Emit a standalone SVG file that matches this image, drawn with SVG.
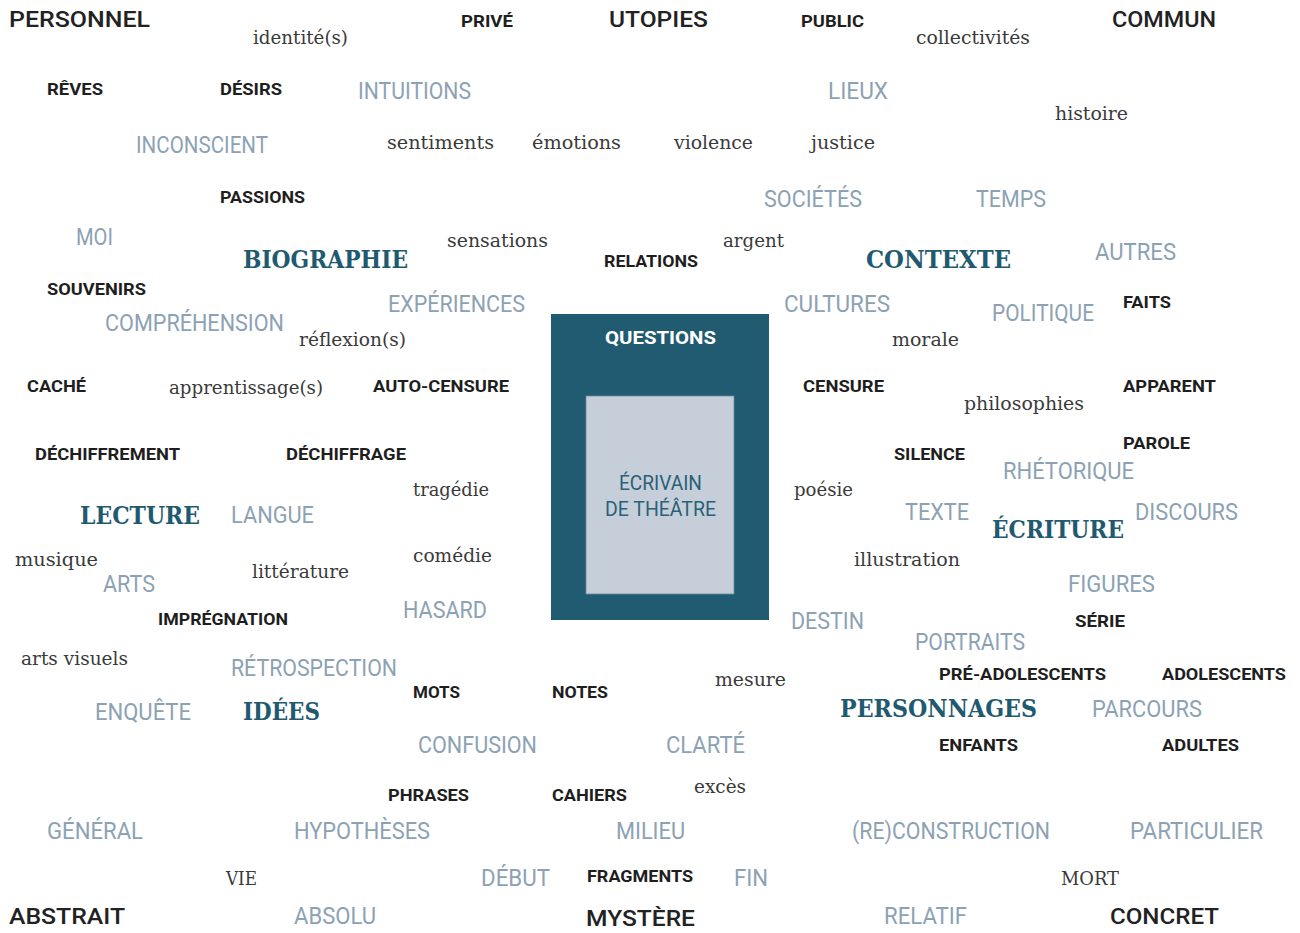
<svg xmlns="http://www.w3.org/2000/svg" width="1300" height="933" viewBox="0 0 1300 933">
  <style>
    .big { font-family: Roboto, "Liberation Sans", sans-serif; font-weight: 500; font-size: 22px; fill: #222222; }
    .sm { font-family: Roboto, "Liberation Sans", sans-serif; font-weight: 700; font-size: 17px; fill: #1e1e1e; }
    .lt { font-family: Roboto, "Liberation Sans", sans-serif; font-weight: 400; font-size: 24px; fill: #8ca2b4; }
    .sf { font-family: "DejaVu Serif", "Liberation Serif", serif; font-weight: 400; font-size: 18px; fill: #3a3a3a; }
    .sl { font-family: "DejaVu Serif", "Liberation Serif", serif; font-weight: 700; font-size: 24px; fill: #1f5a70; }
    .q { font-family: Roboto, "Liberation Sans", sans-serif; font-weight: 700; font-size: 18px; fill: #ffffff; }
    .ec { font-family: Roboto, "Liberation Sans", sans-serif; font-weight: 400; font-size: 20px; fill: #2a6078; }
  </style>

  <rect width="1300" height="933" fill="#ffffff"/>

  <!-- central box -->
  <g id="centre">
    <rect x="551" y="314" width="218" height="306" fill="#215b71"/>
    <rect x="586" y="396" width="148" height="198" fill="#c6cfd9" stroke="#6d8c9c" stroke-width="0.8"/>
    <text class="q" x="605" y="344" textLength="111" lengthAdjust="spacingAndGlyphs">QUESTIONS</text>
    <text class="ec" x="619" y="490" textLength="83" lengthAdjust="spacingAndGlyphs">ÉCRIVAIN</text>
    <text class="ec" x="605" y="516" textLength="111" lengthAdjust="spacingAndGlyphs">DE THÉÂTRE</text>
  </g>

  <!-- corner and axis terms -->
  <g id="poles">
    <text class="big" x="9" y="27" textLength="141" lengthAdjust="spacingAndGlyphs">PERSONNEL</text>
    <text class="big" x="609" y="27" textLength="99" lengthAdjust="spacingAndGlyphs">UTOPIES</text>
    <text class="big" x="1112" y="27" textLength="104" lengthAdjust="spacingAndGlyphs">COMMUN</text>
    <text class="big" x="9" y="924" textLength="116" lengthAdjust="spacingAndGlyphs">ABSTRAIT</text>
    <text class="big" x="586" y="926" textLength="109" lengthAdjust="spacingAndGlyphs">MYSTÈRE</text>
    <text class="big" x="1110" y="924" textLength="109" lengthAdjust="spacingAndGlyphs">CONCRET</text>
  </g>

  <!-- main themes -->
  <g id="themes">
    <text class="sl" x="243" y="268" textLength="165" lengthAdjust="spacingAndGlyphs">BIOGRAPHIE</text>
    <text class="sl" x="866" y="268" textLength="145" lengthAdjust="spacingAndGlyphs">CONTEXTE</text>
    <text class="sl" x="80" y="524" textLength="120" lengthAdjust="spacingAndGlyphs">LECTURE</text>
    <text class="sl" x="992" y="538" textLength="132" lengthAdjust="spacingAndGlyphs">ÉCRITURE</text>
    <text class="sl" x="243" y="720" textLength="77" lengthAdjust="spacingAndGlyphs">IDÉES</text>
    <text class="sl" x="840" y="717" textLength="197" lengthAdjust="spacingAndGlyphs">PERSONNAGES</text>
  </g>

  <!-- small bold terms -->
  <g id="keywords">
    <text class="sm" x="461" y="27" textLength="52" lengthAdjust="spacingAndGlyphs">PRIVÉ</text>
    <text class="sm" x="801" y="27" textLength="63" lengthAdjust="spacingAndGlyphs">PUBLIC</text>
    <text class="sm" x="47" y="95" textLength="56" lengthAdjust="spacingAndGlyphs">RÊVES</text>
    <text class="sm" x="220" y="95" textLength="62" lengthAdjust="spacingAndGlyphs">DÉSIRS</text>
    <text class="sm" x="220" y="203" textLength="85" lengthAdjust="spacingAndGlyphs">PASSIONS</text>
    <text class="sm" x="604" y="267" textLength="94" lengthAdjust="spacingAndGlyphs">RELATIONS</text>
    <text class="sm" x="47" y="295" textLength="99" lengthAdjust="spacingAndGlyphs">SOUVENIRS</text>
    <text class="sm" x="1123" y="308" textLength="48" lengthAdjust="spacingAndGlyphs">FAITS</text>
    <text class="sm" x="27" y="392" textLength="59" lengthAdjust="spacingAndGlyphs">CACHÉ</text>
    <text class="sm" x="373" y="392" textLength="136" lengthAdjust="spacingAndGlyphs">AUTO-CENSURE</text>
    <text class="sm" x="803" y="392" textLength="81" lengthAdjust="spacingAndGlyphs">CENSURE</text>
    <text class="sm" x="1123" y="392" textLength="93" lengthAdjust="spacingAndGlyphs">APPARENT</text>
    <text class="sm" x="35" y="460" textLength="145" lengthAdjust="spacingAndGlyphs">DÉCHIFFREMENT</text>
    <text class="sm" x="286" y="460" textLength="120" lengthAdjust="spacingAndGlyphs">DÉCHIFFRAGE</text>
    <text class="sm" x="894" y="460" textLength="71" lengthAdjust="spacingAndGlyphs">SILENCE</text>
    <text class="sm" x="1123" y="449" textLength="67" lengthAdjust="spacingAndGlyphs">PAROLE</text>
    <text class="sm" x="158" y="625" textLength="130" lengthAdjust="spacingAndGlyphs">IMPRÉGNATION</text>
    <text class="sm" x="1075" y="627" textLength="50" lengthAdjust="spacingAndGlyphs">SÉRIE</text>
    <text class="sm" x="939" y="680" textLength="167" lengthAdjust="spacingAndGlyphs">PRÉ-ADOLESCENTS</text>
    <text class="sm" x="1162" y="680" textLength="124" lengthAdjust="spacingAndGlyphs">ADOLESCENTS</text>
    <text class="sm" x="413" y="698" textLength="47" lengthAdjust="spacingAndGlyphs">MOTS</text>
    <text class="sm" x="552" y="698" textLength="56" lengthAdjust="spacingAndGlyphs">NOTES</text>
    <text class="sm" x="939" y="751" textLength="79" lengthAdjust="spacingAndGlyphs">ENFANTS</text>
    <text class="sm" x="1162" y="751" textLength="77" lengthAdjust="spacingAndGlyphs">ADULTES</text>
    <text class="sm" x="388" y="801" textLength="81" lengthAdjust="spacingAndGlyphs">PHRASES</text>
    <text class="sm" x="552" y="801" textLength="75" lengthAdjust="spacingAndGlyphs">CAHIERS</text>
    <text class="sm" x="587" y="882" textLength="106" lengthAdjust="spacingAndGlyphs">FRAGMENTS</text>
  </g>

  <!-- light terms -->
  <g id="notions">
    <text class="lt" x="358" y="99" textLength="113" lengthAdjust="spacingAndGlyphs">INTUITIONS</text>
    <text class="lt" x="828" y="99" textLength="60" lengthAdjust="spacingAndGlyphs">LIEUX</text>
    <text class="lt" x="136" y="153" textLength="132" lengthAdjust="spacingAndGlyphs">INCONSCIENT</text>
    <text class="lt" x="764" y="207" textLength="98" lengthAdjust="spacingAndGlyphs">SOCIÉTÉS</text>
    <text class="lt" x="976" y="207" textLength="70" lengthAdjust="spacingAndGlyphs">TEMPS</text>
    <text class="lt" x="76" y="245" textLength="37" lengthAdjust="spacingAndGlyphs">MOI</text>
    <text class="lt" x="1095" y="260" textLength="81" lengthAdjust="spacingAndGlyphs">AUTRES</text>
    <text class="lt" x="388" y="312" textLength="137" lengthAdjust="spacingAndGlyphs">EXPÉRIENCES</text>
    <text class="lt" x="784" y="312" textLength="106" lengthAdjust="spacingAndGlyphs">CULTURES</text>
    <text class="lt" x="992" y="321" textLength="102" lengthAdjust="spacingAndGlyphs">POLITIQUE</text>
    <text class="lt" x="105" y="331" textLength="179" lengthAdjust="spacingAndGlyphs">COMPRÉHENSION</text>
    <text class="lt" x="1003" y="479" textLength="131" lengthAdjust="spacingAndGlyphs">RHÉTORIQUE</text>
    <text class="lt" x="231" y="523" textLength="83" lengthAdjust="spacingAndGlyphs">LANGUE</text>
    <text class="lt" x="905" y="520" textLength="64" lengthAdjust="spacingAndGlyphs">TEXTE</text>
    <text class="lt" x="1135" y="520" textLength="103" lengthAdjust="spacingAndGlyphs">DISCOURS</text>
    <text class="lt" x="103" y="592" textLength="52" lengthAdjust="spacingAndGlyphs">ARTS</text>
    <text class="lt" x="1068" y="592" textLength="87" lengthAdjust="spacingAndGlyphs">FIGURES</text>
    <text class="lt" x="403" y="618" textLength="84" lengthAdjust="spacingAndGlyphs">HASARD</text>
    <text class="lt" x="791" y="629" textLength="73" lengthAdjust="spacingAndGlyphs">DESTIN</text>
    <text class="lt" x="915" y="650" textLength="110" lengthAdjust="spacingAndGlyphs">PORTRAITS</text>
    <text class="lt" x="231" y="676" textLength="166" lengthAdjust="spacingAndGlyphs">RÉTROSPECTION</text>
    <text class="lt" x="95" y="720" textLength="96" lengthAdjust="spacingAndGlyphs">ENQUÊTE</text>
    <text class="lt" x="1092" y="717" textLength="110" lengthAdjust="spacingAndGlyphs">PARCOURS</text>
    <text class="lt" x="418" y="753" textLength="119" lengthAdjust="spacingAndGlyphs">CONFUSION</text>
    <text class="lt" x="666" y="753" textLength="79" lengthAdjust="spacingAndGlyphs">CLARTÉ</text>
    <text class="lt" x="47" y="839" textLength="96" lengthAdjust="spacingAndGlyphs">GÉNÉRAL</text>
    <text class="lt" x="294" y="839" textLength="136" lengthAdjust="spacingAndGlyphs">HYPOTHÈSES</text>
    <text class="lt" x="616" y="839" textLength="69" lengthAdjust="spacingAndGlyphs">MILIEU</text>
    <text class="lt" x="852" y="839" textLength="198" lengthAdjust="spacingAndGlyphs">(RE)CONSTRUCTION</text>
    <text class="lt" x="1130" y="839" textLength="133" lengthAdjust="spacingAndGlyphs">PARTICULIER</text>
    <text class="lt" x="481" y="886" textLength="69" lengthAdjust="spacingAndGlyphs">DÉBUT</text>
    <text class="lt" x="734" y="886" textLength="34" lengthAdjust="spacingAndGlyphs">FIN</text>
    <text class="lt" x="294" y="924" textLength="82" lengthAdjust="spacingAndGlyphs">ABSOLU</text>
    <text class="lt" x="884" y="924" textLength="83" lengthAdjust="spacingAndGlyphs">RELATIF</text>
  </g>

  <!-- serif words -->
  <g id="words">
    <text class="sf" x="253" y="44" textLength="95" lengthAdjust="spacingAndGlyphs">identité(s)</text>
    <text class="sf" x="916" y="44" textLength="114" lengthAdjust="spacingAndGlyphs">collectivités</text>
    <text class="sf" x="1055" y="120" textLength="73" lengthAdjust="spacingAndGlyphs">histoire</text>
    <text class="sf" x="387" y="149" textLength="107" lengthAdjust="spacingAndGlyphs">sentiments</text>
    <text class="sf" x="532" y="149" textLength="89" lengthAdjust="spacingAndGlyphs">émotions</text>
    <text class="sf" x="674" y="149" textLength="79" lengthAdjust="spacingAndGlyphs">violence</text>
    <text class="sf" x="811" y="149" textLength="64" lengthAdjust="spacingAndGlyphs">justice</text>
    <text class="sf" x="447" y="247" textLength="101" lengthAdjust="spacingAndGlyphs">sensations</text>
    <text class="sf" x="723" y="247" textLength="61" lengthAdjust="spacingAndGlyphs">argent</text>
    <text class="sf" x="299" y="346" textLength="107" lengthAdjust="spacingAndGlyphs">réflexion(s)</text>
    <text class="sf" x="892" y="346" textLength="67" lengthAdjust="spacingAndGlyphs">morale</text>
    <text class="sf" x="169" y="394" textLength="154" lengthAdjust="spacingAndGlyphs">apprentissage(s)</text>
    <text class="sf" x="964" y="410" textLength="120" lengthAdjust="spacingAndGlyphs">philosophies</text>
    <text class="sf" x="413" y="496" textLength="76" lengthAdjust="spacingAndGlyphs">tragédie</text>
    <text class="sf" x="794" y="496" textLength="59" lengthAdjust="spacingAndGlyphs">poésie</text>
    <text class="sf" x="413" y="562" textLength="79" lengthAdjust="spacingAndGlyphs">comédie</text>
    <text class="sf" x="15" y="566" textLength="83" lengthAdjust="spacingAndGlyphs">musique</text>
    <text class="sf" x="854" y="566" textLength="106" lengthAdjust="spacingAndGlyphs">illustration</text>
    <text class="sf" x="252" y="578" textLength="97" lengthAdjust="spacingAndGlyphs">littérature</text>
    <text class="sf" x="21" y="665" textLength="107" lengthAdjust="spacingAndGlyphs">arts visuels</text>
    <text class="sf" x="715" y="686" textLength="71" lengthAdjust="spacingAndGlyphs">mesure</text>
    <text class="sf" x="694" y="793" textLength="52" lengthAdjust="spacingAndGlyphs">excès</text>
    <text class="sf" x="226" y="885" textLength="31" lengthAdjust="spacingAndGlyphs">VIE</text>
    <text class="sf" x="1061" y="885" textLength="58" lengthAdjust="spacingAndGlyphs">MORT</text>
  </g>
</svg>
